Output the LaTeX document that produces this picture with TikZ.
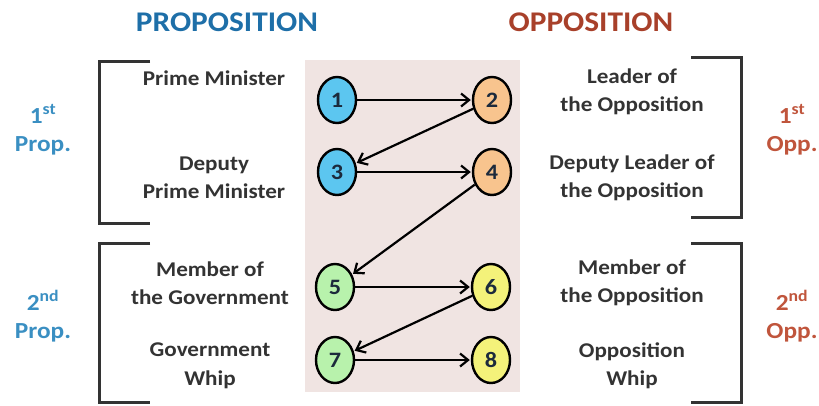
\documentclass[tikz,border=0pt]{standalone}
\usepackage{fontspec}
\setmainfont{Carlito}[FakeStretch=1.1]
\usetikzlibrary{shapes.geometric,arrows.meta}
\definecolor{bgpink}{HTML}{F0E4E2}
\definecolor{propblue}{HTML}{1E6FA8}
\definecolor{sideblue}{HTML}{3A8FC2}
\definecolor{oppred}{HTML}{A8402A}
\definecolor{sidered}{HTML}{C0553C}
\definecolor{txtgray}{HTML}{333333}
\definecolor{cblue}{HTML}{5CC6F0}
\definecolor{corange}{HTML}{F8C48E}
\definecolor{cgreen}{HTML}{B8F2AC}
\definecolor{cyellow}{HTML}{F4F27A}
\definecolor{numcol}{HTML}{1C2A3C}
\tikzset{
  spot/.style={ellipse, draw=black, line width=2.4pt, minimum width=38pt, minimum height=46pt,
    inner sep=0pt, font=\fontsize{22}{22}\selectfont\bfseries, text=numcol},
  link/.style={line width=2.2pt, black, -{Straight Barb[length=8pt,width=13pt,line width=2.2pt]}, shorten >=1pt},
  role/.style={align=center, text=txtgray, font=\fontsize{21}{28.5}\selectfont\bfseries},
  bracketline/.style={line width=3pt, draw=txtgray},
  title/.style={font=\fontsize{28.5}{30}\selectfont\bfseries},
  side/.style={align=center, inner sep=1pt, font=\fontsize{23}{28}\selectfont\bfseries}
}
\begin{document}
\begin{tikzpicture}[x=1pt,y=-1pt]
\useasboundingbox (0,0) rectangle (819,405);
\fill[bgpink] (305,60) rectangle (520,392);

\node[title, text=propblue] (tprop) at (227,22) {PROPOSITION};
\node[title, text=oppred] (topp) at (591,22) {OPPOSITION};

\draw[bracketline] (150,61) -- (99,61) -- (99,223) -- (150,223);
\draw[bracketline] (150,243) -- (99,243) -- (99,402) -- (150,402);
\draw[bracketline] (691,57) -- (741,57) -- (741,217) -- (691,217);
\draw[bracketline] (691,243) -- (741,243) -- (741,402) -- (691,402);

\node[side, text=sideblue] (s1) at (43,130) {1\textsuperscript{st}\\Prop.};
\node[side, text=sideblue] (s2) at (43,316) {2\textsuperscript{nd}\\Prop.};
\node[side, text=sidered] (s3) at (792,130) {1\textsuperscript{st}\\Opp.};
\node[side, text=sidered] (s4) at (792,316) {2\textsuperscript{nd}\\Opp.};

\node[role] (r1) at (214,78) {Prime Minister};
\node[role] (r3) at (214,178) {Deputy\\Prime Minister};
\node[role] (r5) at (210,283) {Member of\\the Government};
\node[role] (r7) at (210,366) {Government\\Whip};
\node[role] (r2) at (632,92) {Leader of\\the Opposition};
\node[role] (r4) at (632,178) {Deputy Leader of\\the Opposition};
\node[role] (r6) at (632,283) {Member of\\the Opposition};
\node[role] (r8) at (632,366) {Opposition\\Whip};

\node[spot, fill=cblue] (n1) at (337,100) {1};
\node[spot, fill=corange] (n2) at (492,100) {2};
\node[spot, fill=cblue] (n3) at (337,172) {3};
\node[spot, fill=corange] (n4) at (492,172) {4};
\node[spot, fill=cgreen] (n5) at (335,287) {5};
\node[spot, fill=cyellow] (n6) at (491,287) {6};
\node[spot, fill=cgreen] (n7) at (335,360) {7};
\node[spot, fill=cyellow] (n8) at (491,360) {8};

\draw[link] (n1) -- (n2);
\draw[link] (n2) -- (n3);
\draw[link] (n3) -- (n4);
\draw[link] (n4) -- (n5);
\draw[link] (n5) -- (n6);
\draw[link] (n6) -- (n7);
\draw[link] (n7) -- (n8);
\end{tikzpicture}
\end{document}
